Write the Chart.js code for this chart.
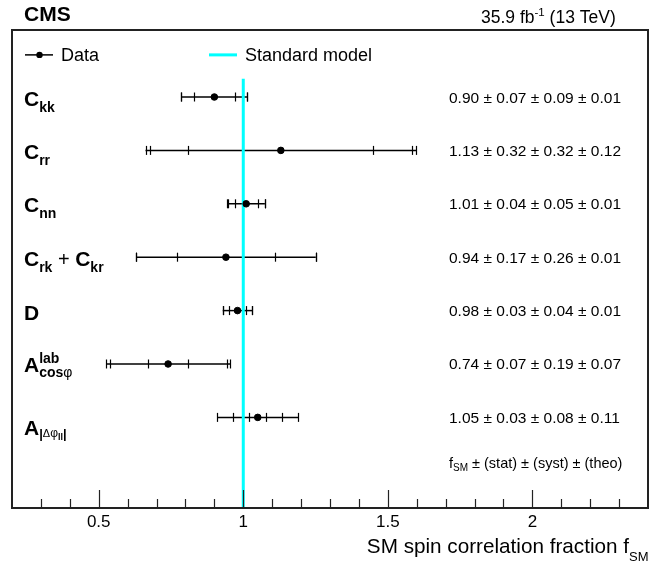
<!DOCTYPE html>
<html><head><meta charset="utf-8">
<script src="https://cdn.jsdelivr.net/npm/chart.js@4/dist/chart.umd.min.js"></script>
<style>html,body{margin:0;padding:0;background:#fff;}canvas{display:block;}</style>
</head><body>
<canvas id="c" width="667" height="564" style="width:667px;height:564px"></canvas>
<script>
// ---- data ----
const observables = ['C_kk', 'C_rr', 'C_nn', 'C_rk + C_kr', 'D', 'A_cosφ^lab', 'A_|Δφ_ll|'];
const fSM     = [0.90, 1.13, 1.01, 0.94, 0.98, 0.74, 1.05];
const statErr = [0.07, 0.32, 0.04, 0.17, 0.03, 0.07, 0.03];
const systErr = [0.09, 0.32, 0.05, 0.26, 0.04, 0.19, 0.08];
const theoErr = [0.01, 0.12, 0.01, 0.01, 0.01, 0.07, 0.11];
const xTickLabels = ['0.5', '1', '1.5', '2'];
const smValue = 1;

// ---- presentation ----
const FONT = '"Liberation Sans", Arial, Helvetica, sans-serif';
const f = (size, bold) => (bold ? 'bold ' : '') + size + 'px ' + FONT;
const ROW_MIN = -1.255, ROW_MAX = 7.697;

// rich label pieces: [text, size, bold, dy, advance]
const labelMarkup = [
  [['C',21,true,8.5],['kk',14,true,14.5]],
  [['C',21,true,8.5],['rr',14,true,14.5]],
  [['C',21,true,8.5],['nn',14,true,14.5]],
  [['C',21,true,8.5],['rk',14,true,14.5],[' + ',20,false,8.5],['C',21,true,8.5],['kr',14,true,14.5]],
  [['D',21,true,9]],
  [['A',21,true,8],['lab',14,true,-1,false],['cos',14,true,13],['φ',14,false,13]],
  [['A',21,true,17.5],['|',13,true,20.5],['Δ',11,false,19.5],['φ',12,false,19.5],['ll',9,true,22.5],['|',13,true,20.5]]
];

function drawRich(ctx, x, y, pieces) {
  for (const [t, size, bold, dy, adv] of pieces) {
    ctx.font = f(size, bold);
    ctx.fillText(t, x, y + dy);
    if (adv !== false) x += ctx.measureText(t).width;
  }
  return x;
}

const cmsPlugin = {
  id: 'cms',
  beforeDatasetsDraw(chart) {
    const ctx = chart.ctx, xs = chart.scales.x, ys = chart.scales.y;
    ctx.save();
    ctx.strokeStyle = '#000';
    fSM.forEach((v, i) => {
      const y = ys.getPixelForValue(i);
      const e1 = statErr[i];
      const e2 = Math.hypot(statErr[i], systErr[i]);
      const e3 = Math.hypot(statErr[i], systErr[i], theoErr[i]);
      ctx.lineWidth = 1.5;
      ctx.beginPath();
      ctx.moveTo(xs.getPixelForValue(v - e3), y);
      ctx.lineTo(xs.getPixelForValue(v + e3), y);
      ctx.stroke();
      ctx.lineWidth = 1.2;
      for (const e of [e1, e2, e3]) {
        for (const s of [-1, 1]) {
          const px = Math.round(xs.getPixelForValue(v + s * e)) + 0.5;
          ctx.beginPath();
          ctx.moveTo(px, y - 4.5);
          ctx.lineTo(px, y + 4.5);
          ctx.stroke();
        }
      }
    });
    ctx.restore();
  },
  afterDraw(chart) {
    const ctx = chart.ctx, xs = chart.scales.x, ys = chart.scales.y, a = chart.chartArea;
    ctx.save();
    // frame
    ctx.strokeStyle = '#222';
    ctx.lineWidth = 2;
    ctx.strokeRect(a.left, a.top, a.right - a.left, a.bottom - a.top);
    // axis ticks (inside)
    ctx.lineWidth = 1.2;
    for (let k = 3; k <= 23; k++) {
      const v = k / 10;
      const major = k % 5 === 0;
      const px = Math.round(xs.getPixelForValue(v)) + 0.5;
      ctx.beginPath();
      ctx.moveTo(px, a.bottom);
      ctx.lineTo(px, a.bottom - (major ? 18 : 9));
      ctx.stroke();
    }
    ctx.fillStyle = '#000';
    ctx.textBaseline = 'alphabetic';
    // header texts
    ctx.textAlign = 'left';
    ctx.font = f(21, true);
    ctx.fillText('CMS', 24, 21);
    ctx.font = f(17.5, false);
    let hx = 481;
    ctx.fillText('35.9 fb', hx, 23); hx += ctx.measureText('35.9 fb').width;
    ctx.font = f(11.5, false);
    ctx.fillText('-1', hx, 16); hx += ctx.measureText('-1').width;
    ctx.font = f(17.5, false);
    ctx.fillText(' (13 TeV)', hx, 23);
    // legend
    const ly = ys.getPixelForValue(-0.789);
    ctx.strokeStyle = '#000';
    ctx.lineWidth = 1.5;
    ctx.beginPath(); ctx.moveTo(25, ly); ctx.lineTo(53, ly); ctx.stroke();
    ctx.beginPath(); ctx.arc(39.5, ly, 3.2, 0, Math.PI * 2); ctx.fill();
    ctx.font = f(18, false);
    ctx.fillText('Data', 61, ly + 6.5);
    ctx.strokeStyle = '#00ffff';
    ctx.lineWidth = 3;
    ctx.beginPath(); ctx.moveTo(209, ly); ctx.lineTo(237, ly); ctx.stroke();
    ctx.fillText('Standard model', 245, ly + 6.5);
    // row labels and values
    fSM.forEach((v, i) => {
      const y = ys.getPixelForValue(i);
      drawRich(ctx, 24, y, labelMarkup[i]);
      ctx.font = f(15.5, false);
      ctx.fillText(v.toFixed(2) + ' ± ' + statErr[i].toFixed(2) + ' ± ' + systErr[i].toFixed(2) + ' ± ' + theoErr[i].toFixed(2), 449, y + 5.5);
    });
    // legend for numbers
    const ny = ys.getPixelForValue(6.84);
    drawRich(ctx, 449, ny, [['f',14.5,false,6],['SM',10,false,9],[' ± (stat) ± (syst) ± (theo)',14.5,false,6]]);
    // axis title
    ctx.font = f(20.7, false);
    ctx.textAlign = 'right';
    ctx.fillText('SM spin correlation fraction f', 629, 553);
    ctx.textAlign = 'left';
    ctx.font = f(13, false);
    ctx.fillText('SM', 629, 561);
    ctx.restore();
  }
};

new Chart(document.getElementById('c'), {
  type: 'scatter',
  data: {
    datasets: [
      {
        label: 'Data',
        data: fSM.map((v, i) => ({ x: v, y: i })),
        backgroundColor: '#000',
        borderColor: '#000',
        pointRadius: 3.3,
        pointHoverRadius: 3.3,
        order: 0
      },
      {
        label: 'Standard model',
        data: [{ x: smValue, y: -0.34 }, { x: smValue, y: ROW_MAX }],
        showLine: true,
        borderColor: '#00ffff',
        borderWidth: 3,
        pointRadius: 0,
        order: 1
      }
    ]
  },
  options: {
    responsive: false,
    animation: false,
    devicePixelRatio: window.devicePixelRatio || 1,
    layout: { padding: { left: 12, right: 19, top: 30, bottom: 0 } },
    plugins: { legend: { display: false }, tooltip: { enabled: false } },
    scales: {
      x: {
        type: 'linear',
        min: 0.2,
        max: 2.4,
        grid: { display: false, drawTicks: false },
        border: { display: false },
        afterFit: (s) => { s.height = 56; },
        ticks: {
          stepSize: 0.5,
          includeBounds: false,
          autoSkip: false,
          maxRotation: 0,
          padding: 4,
          color: '#000',
          font: { family: FONT, size: 17 },
          callback: (v) => xTickLabels.find(l => Math.abs(parseFloat(l) - v) < 1e-6) ?? ''
        }
      },
      y: {
        type: 'linear',
        display: false,
        min: ROW_MIN,
        max: ROW_MAX,
        reverse: true
      }
    }
  },
  plugins: [cmsPlugin]
});
</script>
</body></html>
